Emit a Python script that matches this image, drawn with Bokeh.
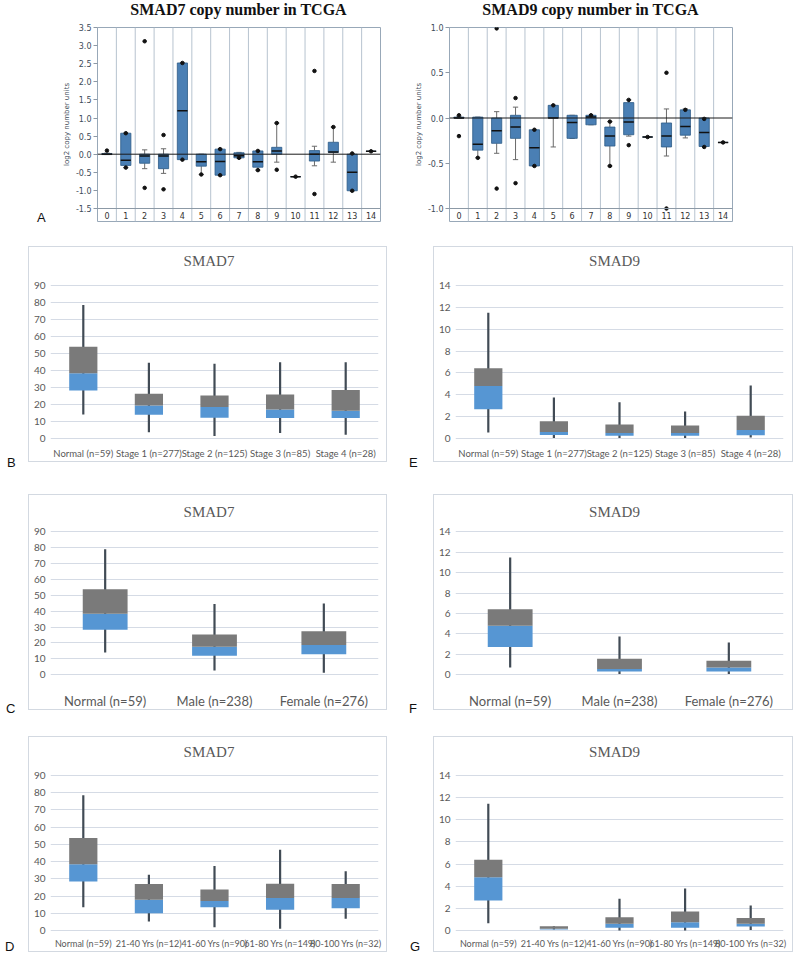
from bokeh.plotting import figure
from bokeh.models import FixedTicker, Range1d, FactorRange, NumeralTickFormatter, Span, ColumnDataSource, Div
from bokeh.layouts import column, row
from bokeh.core.properties import value
from bokeh.embed import file_html
from bokeh.resources import INLINE

# ---------------- data: TCGA copy number (panel A) ----------------
cn_cats = ["0", "1", "2", "3", "4", "5", "6", "7", "8", "9", "10", "11", "12", "13", "14"]

smad7_cn_med = [0.0, -0.17, -0.05, -0.05, 1.2, -0.21, -0.2, -0.04, -0.21, 0.09, -0.62, 0.0, 0.06, -0.5, 0.08]
smad7_cn_q1 = [-0.01, -0.31, -0.25, -0.4, -0.15, -0.33, -0.58, -0.1, -0.36, 0.0, -0.62, -0.19, 0.05, -1.01, 0.08]
smad7_cn_q3 = [0.02, 0.58, 0.0, 0.0, 2.52, 0.0, 0.14, 0.04, 0.09, 0.19, -0.62, 0.1, 0.33, 0.0, 0.08]
smad7_cn_lo = [-0.01, -0.37, -0.4, -0.53, -0.15, -0.56, -0.58, -0.11, -0.44, -0.22, -0.62, -0.32, -0.22, -1.01, 0.08]
smad7_cn_hi = [0.03, 0.58, 0.12, 0.15, 2.52, 0.0, 0.14, 0.05, 0.09, 0.86, -0.62, 0.22, 0.75, 0.02, 0.08]
smad7_dot_cat = ["0", "1", "1", "2", "2", "3", "3", "4", "4", "5", "6", "6", "7", "8", "8",
                 "9", "9", "10", "11", "11", "12", "13", "13", "14"]
smad7_dot_val = [0.1, 0.58, -0.37, 3.12, -0.93, 0.53, -0.97, 2.52, -0.15, -0.56, 0.14, -0.58, -0.1, 0.09, -0.44,
                 0.86, -0.43, -0.62, 2.3, -1.1, 0.75, 0.02, -1.01, 0.08]
smad7_cn_ticks = [-1.5, -1.0, -0.5, 0.0, 0.5, 1.0, 1.5, 2.0, 2.5, 3.0, 3.5]

smad9_cn_med = [0.0, -0.29, -0.14, -0.1, -0.33, 0.0, -0.05, 0.01, -0.2, -0.045, -0.21, -0.2, -0.095, -0.16, -0.27]
smad9_cn_q1 = [0.0, -0.355, -0.28, -0.225, -0.53, 0.0, -0.225, -0.075, -0.31, -0.185, -0.21, -0.32, -0.19, -0.315, -0.27]
smad9_cn_q3 = [0.01, 0.01, 0.0, 0.03, -0.13, 0.14, 0.03, 0.03, -0.1, 0.17, -0.21, -0.055, 0.09, 0.0, -0.27]
smad9_cn_lo = [0.0, -0.44, -0.39, -0.46, -0.53, -0.32, -0.225, -0.075, -0.53, -0.2, -0.21, -0.42, -0.22, -0.315, -0.27]
smad9_cn_hi = [0.02, 0.01, 0.07, 0.12, -0.13, 0.14, 0.03, 0.03, -0.04, 0.2, -0.21, 0.1, 0.1, 0.0, -0.27]
smad9_dot_cat = ["0", "0", "1", "2", "2", "3", "3", "4", "4", "5", "7", "8", "8",
                 "9", "9", "10", "11", "11", "12", "13", "13", "14"]
smad9_dot_val = [0.03, -0.2, -0.44, 0.99, -0.78, 0.22, -0.72, -0.13, -0.53, 0.14, 0.03, -0.04, -0.53,
                 0.2, -0.3, -0.21, 0.5, -1.0, 0.09, -0.01, -0.32, -0.27]
smad9_cn_ticks = [-1.0, -0.5, 0.0, 0.5, 1.0]

# ---------------- data: expression box plots (panels B-G) ----------------
stage_cats = ["Normal (n=59)", "Stage 1 (n=277)", "Stage 2 (n=125)", "Stage 3 (n=85)", "Stage 4 (n=28)"]
gender_cats = ["Normal (n=59)", "Male (n=238)", "Female (n=276)"]
age_cats = ["Normal (n=59)", "21-40 Yrs (n=12)", "41-60 Yrs (n=90)", "61-80 Yrs (n=149)", "80-100 Yrs (n=32)"]

smad7_ticks = [0, 10, 20, 30, 40, 50, 60, 70, 80, 90]
smad9_ticks = [0, 2, 4, 6, 8, 10, 12, 14]

s7_stage_lo = [14.1, 3.7, 1.5, 3.3, 2.2]
s7_stage_q1 = [28.2, 13.9, 12.2, 12.0, 12.0]
s7_stage_med = [38.4, 19.4, 18.6, 17.1, 16.3]
s7_stage_q3 = [53.9, 26.3, 25.3, 25.9, 28.6]
s7_stage_hi = [78.6, 44.5, 43.9, 44.9, 44.9]

s9_stage_lo = [0.56, 0.05, 0.05, 0.05, 0.1]
s9_stage_q1 = [2.67, 0.32, 0.25, 0.25, 0.3]
s9_stage_med = [4.81, 0.6, 0.5, 0.5, 0.78]
s9_stage_q3 = [6.43, 1.58, 1.27, 1.2, 2.09]
s9_stage_hi = [11.5, 3.75, 3.31, 2.46, 4.84]

s7_gender_lo = [13.9, 2.5, 1.2]
s7_gender_q1 = [28.3, 11.8, 12.8]
s7_gender_med = [38.3, 17.6, 18.6]
s7_gender_q3 = [53.8, 25.2, 27.3]
s7_gender_hi = [79.0, 44.5, 44.9]

s9_gender_lo = [0.7, 0.05, 0.05]
s9_gender_q1 = [2.7, 0.3, 0.3]
s9_gender_med = [4.8, 0.55, 0.7]
s9_gender_q3 = [6.4, 1.55, 1.35]
s9_gender_hi = [11.5, 3.73, 3.15]

s7_age_lo = [13.5, 5.2, 1.9, 1.0, 6.8]
s7_age_q1 = [28.4, 10.0, 13.5, 12.0, 12.9]
s7_age_med = [38.4, 17.8, 17.2, 18.9, 18.9]
s7_age_q3 = [53.7, 27.0, 23.8, 27.2, 27.0]
s7_age_hi = [78.6, 32.3, 37.5, 46.9, 34.4]

s9_age_lo = [0.66, 0.08, 0.0, 0.0, 0.05]
s9_age_q1 = [2.71, 0.08, 0.24, 0.24, 0.36]
s9_age_med = [4.82, 0.15, 0.6, 0.75, 0.6]
s9_age_q3 = [6.39, 0.38, 1.2, 1.72, 1.14]
s9_age_hi = [11.45, 0.38, 2.86, 3.8, 2.26]

BLUE = "#5696d3"
GRAY = "#7a7a7a"
WHISK = "#414b55"
TXT = "#595959"
GRID = "#d5dbe5"
BOXLINE = "#d3d9e1"


def letter_div(text, W, H, left, top):
    html = ('<div style="position:relative; left:%spx; top:%spx; margin:0; padding:0; '
            'font-family:\'Liberation Sans\'; font-size:13px; line-height:15px; color:#111111;">%s</div>'
            % (left, top, text))
    return Div(text=html, width=W, height=H, margin=(0, 0, 0, 0))


def title_div(text, W, H, center_x):
    html = ('<div style="width:%spx; text-align:center; margin:0; padding:0; white-space:nowrap; '
            'font-family:\'Liberation Serif\'; font-weight:bold; font-size:16px; line-height:%spx; '
            'color:#111111;">%s</div>' % (2 * center_x, H, text))
    return Div(text=html, width=W, height=H, margin=(0, 0, 0, 0))


def tcga_panel(cats, q1, med, q3, lo, hi, dcat, dval, ticks, W, H,
               fl, fr, py_top, py_lo, py_bot, ylab_standoff=2):
    n = len(cats)
    lo_t, hi_t = ticks[0], ticks[-1]
    u = (hi_t - lo_t) / (py_lo - py_top)
    ybot = lo_t - (py_bot - py_lo) * u
    p = figure(width=W, height=H, output_backend="svg", toolbar_location=None, title=None,
               x_range=FactorRange(factors=cats), y_range=Range1d(ybot, hi_t),
               min_border_left=fl, min_border_right=W - fr,
               min_border_top=py_top, min_border_bottom=H - py_bot)
    p.xaxis.visible = False
    p.xgrid.visible = False
    p.ygrid.visible = False
    p.outline_line_color = "#98a8b8"
    p.outline_line_width = 1

    ya = p.yaxis[0]
    ya.ticker = FixedTicker(ticks=ticks)
    ya.formatter = NumeralTickFormatter(format="0.0")
    ya.axis_line_color = None
    ya.major_tick_out = 4
    ya.major_tick_in = 0
    ya.minor_tick_line_color = None
    ya.major_tick_line_color = "#8c99a6"
    ya.major_label_text_font = "DejaVu Sans"
    ya.major_label_text_font_size = "8px"
    ya.major_label_text_color = "#3d4b59"
    ya.major_label_standoff = 2
    ya.axis_label = "log2 copy number units"
    ya.axis_label_text_font = "DejaVu Sans"
    ya.axis_label_text_font_size = "7px"
    ya.axis_label_text_font_style = "normal"
    ya.axis_label_text_color = "#3d4b59"
    ya.axis_label_standoff = ylab_standoff

    # separators between categories, spanning plot and label row
    sep = ColumnDataSource(dict(x=[(c, 0.5) for c in cats[:-1]],
                                y0=[ybot] * (n - 1), y1=[hi_t] * (n - 1)))
    p.segment(x0="x", y0="y0", x1="x", y1="y1", source=sep, line_color="#b7c3cf", line_width=1)
    p.add_layout(Span(location=lo_t, dimension="width", line_color="#8c99a6", line_width=1))
    p.add_layout(Span(location=0, dimension="width", line_color="#1a1a1a", line_width=1))

    src = ColumnDataSource(dict(x=cats, q1=q1, q3=q3, med=med, lo=lo, hi=hi,
                                xl=[(c, -0.27) for c in cats], xr=[(c, 0.27) for c in cats],
                                cl=[(c, -0.14) for c in cats], cr=[(c, 0.14) for c in cats]))
    p.segment(x0="x", y0="q3", x1="x", y1="hi", source=src, line_color="#6a6a6a", line_width=1)
    p.segment(x0="x", y0="q1", x1="x", y1="lo", source=src, line_color="#6a6a6a", line_width=1)
    p.segment(x0="cl", y0="hi", x1="cr", y1="hi", source=src, line_color="#6a6a6a", line_width=1)
    p.segment(x0="cl", y0="lo", x1="cr", y1="lo", source=src, line_color="#6a6a6a", line_width=1)
    p.vbar(x="x", bottom="q1", top="q3", width=0.54, source=src,
           fill_color="#4a7fb4", line_color="#2c5a86", line_width=0.8)
    p.segment(x0="xl", y0="med", x1="xr", y1="med", source=src, line_color="#111111", line_width=1.5)
    p.scatter(x=dcat, y=dval, size=3.5, color="#111111")

    lab_y = (lo_t + ybot) / 2
    p.text(x=cats, y=[lab_y] * n, text=cats, text_align="center", text_baseline="middle",
           text_font=value("DejaVu Sans"), text_font_size="8px", text_color="#333333")
    return p


def excel_panel(title, cats, lo, q1, med, q3, hi, ticks, W, H, fl, fr, py_top, py_bot,
                title_px, lab_font, lab_standoff, bar_w, margin):
    pad = 3
    top_border = 2
    n = len(cats)
    u = (ticks[-1] - ticks[0]) / (py_bot - py_top)
    p = figure(width=W, height=H, output_backend="svg", toolbar_location=None, title=None,
               x_range=FactorRange(factors=cats),
               y_range=Range1d(ticks[0] - pad * u, ticks[-1] + (py_top - top_border) * u),
               min_border_left=fl, min_border_right=W - fr,
               min_border_top=top_border, min_border_bottom=H - py_bot - pad,
               margin=margin, styles={"border": "1px solid " + BOXLINE})
    p.outline_line_color = None
    p.xgrid.visible = False
    p.ygrid.grid_line_color = GRID
    p.ygrid.grid_line_width = 1
    p.ygrid.ticker = FixedTicker(ticks=ticks)

    ya = p.yaxis[0]
    ya.ticker = FixedTicker(ticks=ticks)
    ya.axis_line_color = None
    ya.major_tick_line_color = None
    ya.major_tick_out = 0
    ya.minor_tick_line_color = None
    ya.minor_tick_out = 0
    ya.major_label_text_font = "Lato"
    ya.major_label_text_font_size = "10px"
    ya.major_label_text_color = TXT
    ya.major_label_standoff = 5

    xa = p.xaxis[0]
    xa.axis_line_color = None
    xa.major_tick_line_color = None
    xa.major_tick_out = 0
    xa.minor_tick_line_color = None
    xa.minor_tick_out = 0
    xa.major_label_text_font = "Lato"
    xa.major_label_text_font_size = "%spx" % lab_font
    xa.major_label_text_color = TXT
    xa.major_label_standoff = lab_standoff

    src = ColumnDataSource(dict(x=cats, lo=lo, q1=q1, med=med, q3=q3, hi=hi))
    p.segment(x0="x", y0="lo", x1="x", y1="hi", source=src, line_color=WHISK, line_width=2.2)
    p.vbar(x="x", bottom="q1", top="med", width=bar_w, source=src, fill_color=BLUE, line_color=None)
    p.vbar(x="x", bottom="med", top="q3", width=bar_w, source=src, fill_color=GRAY, line_color=None)

    # chart title, centred on the bordered box, inside the upper part of the frame
    cat_w = (fr - fl) / n
    off = (W / 2.0 - (fl + fr) / 2.0) / cat_w
    ty = ticks[-1] + (py_top - title_px) * u
    p.text(x=[(cats[n // 2], off)], y=[ty], text=[title], text_align="center", text_baseline="middle",
           text_font=value("Liberation Serif"), text_font_size="15px", text_color=TXT)
    return p


# ---------------- row 1: panel A ----------------
lA = letter_div("A", 50, 236, 37, 210)
tA7 = title_div("SMAD7 copy number in TCGA", 350, 20, 188.5)
pA7 = tcga_panel(cn_cats, smad7_cn_q1, smad7_cn_med, smad7_cn_q3,
                 smad7_cn_lo, smad7_cn_hi, smad7_dot_cat, smad7_dot_val, smad7_cn_ticks,
                 350, 216, 47, 330, 7, 188, 201)
tA9 = title_div("SMAD9 copy number in TCGA", 400, 20, 190.5)
pA9 = tcga_panel(cn_cats, smad9_cn_q1, smad9_cn_med, smad9_cn_q3,
                 smad9_cn_lo, smad9_cn_hi, smad9_dot_cat, smad9_dot_val, smad9_cn_ticks,
                 400, 216, 49, 332, 7, 188, 201)

# ---------------- row 2: B / E (stage) ----------------
lB = letter_div("B", 28, 244, 7, 219)
pB = excel_panel("SMAD7", stage_cats, s7_stage_lo, s7_stage_q1, s7_stage_med, s7_stage_q3, s7_stage_hi,
                 smad7_ticks, 359, 216, 21, 349, 38, 191, 13, 9.5, 6, 0.43, (10, 0, 16, 0))
lE = letter_div("E", 46, 244, 22, 219)
pE = excel_panel("SMAD9", stage_cats, s9_stage_lo, s9_stage_q1, s9_stage_med, s9_stage_q3, s9_stage_hi,
                 smad9_ticks, 360, 216, 21, 349, 38, 191, 13, 9.5, 6, 0.43, (10, 0, 16, 0))

# ---------------- row 3: C / F (gender) ----------------
lC = letter_div("C", 28, 244, 6, 221)
pC = excel_panel("SMAD7", gender_cats, s7_gender_lo, s7_gender_q1, s7_gender_med, s7_gender_q3, s7_gender_hi,
                 smad7_ticks, 359, 216, 21, 349, 37, 182, 17, 13, 15, 0.41, (14, 0, 12, 0))
lF = letter_div("F", 46, 244, 22, 221)
pF = excel_panel("SMAD9", gender_cats, s9_gender_lo, s9_gender_q1, s9_gender_med, s9_gender_q3, s9_gender_hi,
                 smad9_ticks, 360, 216, 21, 349, 37, 182, 17, 13, 15, 0.41, (14, 0, 12, 0))

# ---------------- row 4: D / G (age) ----------------
lD = letter_div("D", 28, 232, 5, 215)
pD = excel_panel("SMAD7", age_cats, s7_age_lo, s7_age_q1, s7_age_med, s7_age_q3, s7_age_hi,
                 smad7_ticks, 359, 216, 21, 349, 38, 193, 14, 9, 4, 0.43, (12, 0, 2, 0))
lG = letter_div("G", 46, 232, 23, 215)
pG = excel_panel("SMAD9", age_cats, s9_age_lo, s9_age_q1, s9_age_med, s9_age_q3, s9_age_hi,
                 smad9_ticks, 360, 216, 21, 349, 38, 193, 14, 9, 4, 0.43, (12, 0, 2, 0))

layout = column(row(lA, column(tA7, pA7), column(tA9, pA9)),
                row(lB, pB, lE, pE), row(lC, pC, lF, pF), row(lD, pD, lG, pG))
open("out.html", "w").write(file_html(layout, INLINE))
